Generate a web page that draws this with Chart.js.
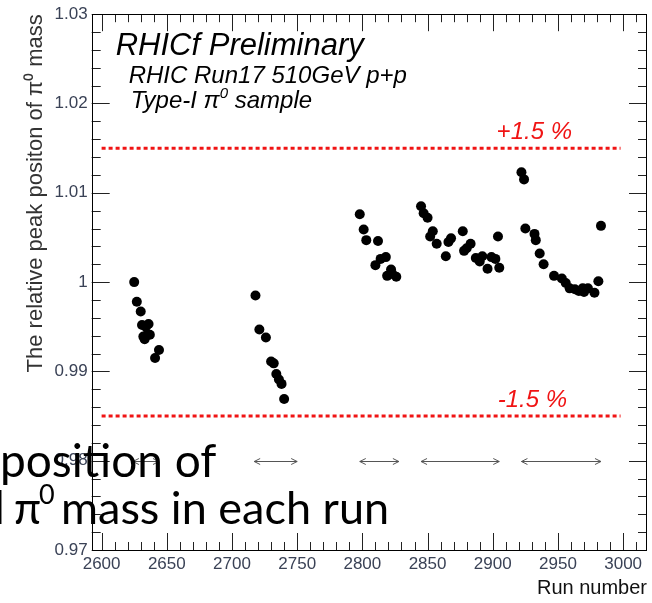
<!DOCTYPE html>
<html>
<head>
<meta charset="utf-8">
<script src="https://cdn.jsdelivr.net/npm/chart.js@4"></script>
<style>
  html, body { margin: 0; padding: 0; background: #fff; }
  canvas { display: block; }
</style>
</head>
<body>
<canvas id="peakChart" width="652" height="603"></canvas>
<script>
// Relative pi0 peak position per run
const runNumbers = [
  2625, 2627, 2630, 2631, 2634, 2636, 2632, 2633, 2634, 2637, 2644, 2641,
  2718, 2721, 2726, 2730, 2732, 2734, 2736, 2738, 2740,
  2798, 2801, 2803, 2812, 2810, 2814, 2818, 2819, 2822, 2823, 2826,
  2845, 2847, 2850, 2854, 2852, 2857, 2864, 2866, 2868, 2877, 2878, 2880,
  2883, 2887, 2890, 2892, 2896, 2899, 2902, 2904, 2905,
  2922, 2924, 2925, 2932, 2933, 2936, 2939, 2947, 2953, 2956, 2959, 2963,
  2966, 2969, 2970, 2973, 2978, 2981, 2983
];
const peakPositions = [
  1.0000, 0.9978, 0.9967, 0.9952, 0.9950, 0.9953, 0.9939, 0.9936, 0.9940, 0.9941, 0.9924, 0.9915,
  0.9985, 0.9947, 0.9938, 0.9911, 0.9909, 0.9897, 0.9891, 0.9886, 0.9869,
  1.0076, 1.0059, 1.0047, 1.0046, 1.0019, 1.0026, 1.0028, 1.0007, 1.0014, 1.0009, 1.0006,
  1.0085, 1.0077, 1.0072, 1.0057, 1.0051, 1.0043, 1.0029, 1.0045, 1.0049, 1.0057, 1.0035, 1.0038,
  1.0043, 1.0027, 1.0023, 1.0029, 1.0015, 1.0028, 1.0026, 1.0051, 1.0016,
  1.0123, 1.0115, 1.0060, 1.0054, 1.0047, 1.0032, 1.0020, 1.0007, 1.0004, 0.9999, 0.9993, 0.9992,
  0.9990, 0.9993, 0.9989, 0.9993, 0.9988, 1.0001, 1.0063
];

// +/-1.5 % band
const bandUpper = 1.015;
const bandLower = 0.985;
const bandRuns = [2600, 2998];

// run periods, drawn as arrows at 0.98
const periodStart = [2624, 2717, 2798, 2845, 2922];
const periodEnd = [2644, 2750, 2828, 2905, 2983];
const periodLevel = 0.98;

const family = "'Liberation Sans', Arial, Helvetica, sans-serif";
Chart.defaults.font.family = family;

// draw text pieces, second item true = superscript
function drawRich(ctx, pieces, x, y, size, style, fam) {
  let cx = x;
  pieces.forEach(([t, sup]) => {
    const s = sup ? Math.round(size * 0.62) : size;
    ctx.font = `${style} ${s}px ${fam}`;
    ctx.fillText(t, cx, sup ? y - size * 0.42 : y);
    cx += ctx.measureText(t).width;
  });
}

// ROOT style frame with ticks pointing inwards, plus the labels
const frameTicks = {
  id: 'frameTicks',
  afterDatasetsDraw(chart) {
    const {ctx, chartArea: a, scales: {x, y}} = chart;
    ctx.save();

    // period arrows
    ctx.strokeStyle = '#555';
    ctx.lineWidth = 1;
    periodStart.forEach((s, i) => {
      const x1 = x.getPixelForValue(s);
      const x2 = x.getPixelForValue(periodEnd[i]);
      const py = Math.round(y.getPixelForValue(periodLevel)) + 0.5;
      ctx.beginPath();
      ctx.moveTo(x1, py); ctx.lineTo(x2, py);
      ctx.moveTo(x1 + 6, py - 3); ctx.lineTo(x1, py); ctx.lineTo(x1 + 6, py + 3);
      ctx.moveTo(x2 - 6, py - 3); ctx.lineTo(x2, py); ctx.lineTo(x2 - 6, py + 3);
      ctx.stroke();
    });

    ctx.strokeStyle = '#222';
    ctx.beginPath();
    for (let v = 2600; v <= 3010; v += 10) {
      const px = Math.round(x.getPixelForValue(v)) + 0.5;
      const len = v % 50 === 0 ? 17 : 8;
      ctx.moveTo(px, a.bottom); ctx.lineTo(px, a.bottom - len);
      ctx.moveTo(px, a.top); ctx.lineTo(px, a.top + len);
    }
    for (let i = 0; i <= 30; i++) {
      const py = Math.round(y.getPixelForValue(0.97 + i * 0.002)) + 0.5;
      const len = i % 5 === 0 ? 18 : 9;
      ctx.moveTo(a.left, py); ctx.lineTo(a.left + len, py);
      ctx.moveTo(a.right, py); ctx.lineTo(a.right - len, py);
    }
    ctx.stroke();
    ctx.strokeStyle = '#000';
    ctx.strokeRect(Math.round(a.left) + 0.5, Math.round(a.top) + 0.5,
      Math.round(a.right - a.left) - 1, Math.round(a.bottom - a.top));

    // labels inside the frame
    ctx.fillStyle = '#000';
    ctx.textBaseline = 'alphabetic';
    ctx.font = `italic 31px ${family}`;
    ctx.fillText('RHICf Preliminary', a.left + 24, 55);
    ctx.font = `italic 24px ${family}`;
    ctx.fillText('RHIC Run17 510GeV p+p', a.left + 37, 83);
    drawRich(ctx, [['Type-I \u03c0', false], ['0', true], [' sample', false]], a.left + 39, 108, 24, 'italic', family);

    ctx.fillStyle = '#f01414';
    ctx.textAlign = 'right';
    ctx.font = `italic 24px ${family}`;
    ctx.fillText('+1.5 %', 572, y.getPixelForValue(bandUpper) - 9);
    ctx.fillText('-1.5 %', 567, y.getPixelForValue(bandLower) - 9);
    ctx.restore();
  },
  afterDraw(chart) {
    // slide caption overlapping the figure
    const ctx = chart.ctx;
    const fam = "Lato, 'Open Sans', sans-serif";
    ctx.save();
    ctx.fillStyle = '#000';
    ctx.textAlign = 'left';
    ctx.font = `46px ${fam}`;
    ctx.fillText('position of', 0, 477);
    ctx.fillText('l', -6, 524);
    drawRich(ctx, [['\u03c0', false]], 14, 524, 44, 'normal', fam);
    drawRich(ctx, [['0', true]], 39, 522, 44, 'normal', fam);
    ctx.font = `45px ${fam}`;
    ctx.fillText('mass in each run', 61, 524);
    ctx.restore();
  }
};

const ctx = document.getElementById('peakChart').getContext('2d');
window.peakChart = new Chart(ctx, {
  type: 'scatter',
  data: {
    datasets: [
      {
        label: 'Peak position',
        data: runNumbers.map((r, i) => ({x: r, y: peakPositions[i]})),
        pointRadius: 5,
        pointHoverRadius: 5,
        pointBackgroundColor: '#000',
        pointBorderWidth: 0
      },
      {
        label: '+1.5 %',
        type: 'line',
        data: bandRuns.map(r => ({x: r, y: bandUpper})),
        borderColor: '#f01414',
        borderWidth: 3,
        borderDash: [4, 3],
        pointRadius: 0,
        fill: false
      },
      {
        label: '-1.5 %',
        type: 'line',
        data: bandRuns.map(r => ({x: r, y: bandLower})),
        borderColor: '#f01414',
        borderWidth: 3,
        borderDash: [4, 3],
        pointRadius: 0,
        fill: false
      }
    ]
  },
  options: {
    responsive: false,
    animation: false,
    layout: {padding: {top: 11, right: 2, left: 0, bottom: 0}},
    plugins: {
      legend: {display: false},
      tooltip: {enabled: false}
    },
    scales: {
      x: {
        type: 'linear',
        min: 2592.4,
        max: 3018.3,
        grid: {display: false, drawTicks: false},
        border: {display: false},
        ticks: {
          stepSize: 50,
          includeBounds: false,
          autoSkip: false,
          maxRotation: 0,
          padding: 4,
          color: '#3a4256',
          font: {size: 17},
          callback: v => String(v)
        },
        title: {
          display: true,
          text: 'Run number',
          align: 'end',
          color: '#111',
          font: {size: 20},
          padding: {top: 0, bottom: 3}
        },
        afterFit(scale) { scale.height = 53; }
      },
      y: {
        min: 0.97,
        max: 1.03,
        grid: {display: false, drawTicks: false},
        border: {display: false},
        ticks: {
          stepSize: 0.01,
          padding: 4,
          color: '#3a4256',
          font: {size: 17},
          callback: v => String(+v.toFixed(2))
        },
        title: {
          display: true,
          text: 'The relative peak positon of \u03c0\u2070 mass',
          align: 'end',
          color: '#333',
          font: {size: 22},
          padding: {top: 23, bottom: 0}
        },
        afterFit(scale) { scale.width = 91.7; }
      }
    }
  },
  plugins: [frameTicks]
});
</script>
</body>
</html>
